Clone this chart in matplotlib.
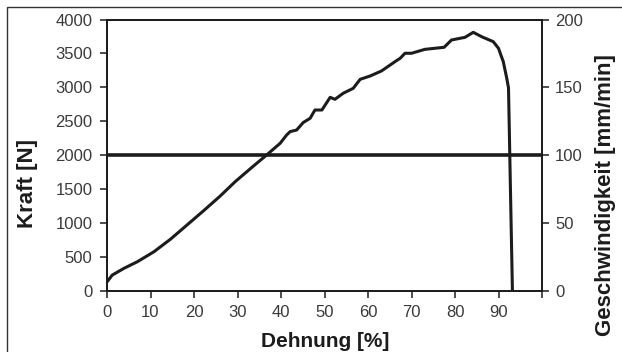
import matplotlib
matplotlib.use("Agg")
import matplotlib.pyplot as plt
from matplotlib.patches import Rectangle

# ---- data ----
strain = [0, 1.2, 3.9, 7.0, 10.8, 14.6, 18.5, 22.3, 26.0, 29.5, 33.6, 36.7,
          39.8, 41.3, 42.1, 43.6, 45.1, 46.7, 47.8, 49.4, 51.3, 52.4, 54.3,
          56.6, 58.2, 60.5, 63.1, 65.1, 66.2, 67.4, 68.5, 70.0, 73.1, 77.5,
          79.2, 82.3, 84.2, 86.1, 88.8, 90.0, 91.1, 91.9, 92.3, 92.5, 92.6,
          93.2]
force = [130, 230, 330, 428, 575, 760, 975, 1185, 1395, 1610, 1835, 2002,
         2174, 2297, 2346, 2370, 2480, 2543, 2665, 2665, 2852, 2823, 2912,
         2985, 3118, 3167, 3241, 3329, 3378, 3428, 3502, 3502, 3560, 3590,
         3698, 3737, 3811, 3747, 3673, 3575, 3378, 3133, 2990, 2322, 1977,
         0]
speed_x = [0, 100]
speed = [100, 100]

x_ticks = list(range(0, 101, 10))
x_labels = [str(v) for v in range(0, 91, 10)] + [""]
y_left_ticks = list(range(0, 4001, 500))
y_right_ticks = list(range(0, 201, 50))

plt.rcParams['font.family'] = ['Liberation Sans', 'DejaVu Sans']

fig = plt.figure(figsize=(6.22, 3.52), dpi=100)
ax = fig.add_axes([107/622, 1 - 290.7/352, (542-107)/622, (290.7-19.5)/352])
ax2 = ax.twinx()

ink = "#1c1c1c"
txt = "#3a3a3a"

ax.plot(strain, force, color=ink, lw=2.2, solid_joinstyle='round', zorder=3)
ax2.plot(speed_x, speed, color=ink, lw=2.6, zorder=3)

ax.set_xlim(0, 100)
ax.set_ylim(0, 4000)
ax2.set_ylim(0, 200)

ax.set_xticks(x_ticks)
ax.set_xticklabels(x_labels)
ax.set_yticks(y_left_ticks)
ax2.set_yticks(y_right_ticks)

for a in (ax, ax2):
    for s in a.spines.values():
        s.set_linewidth(1.3)
        s.set_color(ink)
    a.tick_params(direction='out', length=5, width=1.1, color=ink,
                  labelsize=12, labelcolor=txt)
ax.tick_params(axis='x', pad=5)
ax.tick_params(axis='y', pad=5.5)
ax2.tick_params(axis='y', pad=4.5)

lab = dict(fontweight='bold', color=ink)
ax.set_xlabel("Dehnung [%]", fontsize=15, **lab)
ax.xaxis.set_label_coords(0.501, -0.2076)
ax.xaxis.label.set_verticalalignment('baseline')

ax.set_ylabel("Kraft [N]", fontsize=16, **lab)
ax.yaxis.set_label_coords(-0.182, 0.395)
ax.yaxis.label.set_verticalalignment('center')

ax2.set_ylabel("Geschwindigkeit [mm/min]", fontsize=16, **lab)
ax2.yaxis.set_label_coords(1.146, 0.353)
ax2.yaxis.label.set_verticalalignment('center')

# outer frame (left and top edges visible)
fig.patches.append(Rectangle((7/622, -0.1), 1.2, 1 - 7/352 + 0.1,
                             transform=fig.transFigure, fill=False,
                             edgecolor="#333333", linewidth=1.0, zorder=0))

fig.savefig("out.png", dpi=100)
